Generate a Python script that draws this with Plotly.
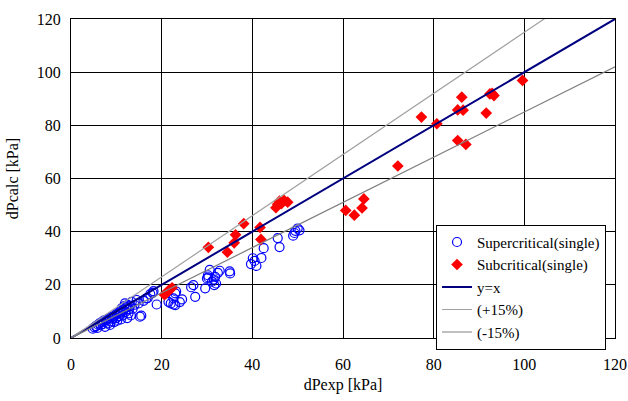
import plotly.graph_objects as go

# Supercritical (single) - blue open circles
super_x = [4.8, 5.2, 5.5, 5.8, 6.0, 6.3, 6.5, 6.8, 7.0, 7.2, 7.5, 7.8, 8.0, 8.2, 8.5, 8.6, 8.8, 9.0,
           9.2, 9.4, 9.5, 9.7, 10.0, 10.0, 10.2, 10.5, 10.6, 10.8, 11.0, 11.0, 11.2, 11.4, 11.5, 11.8,
           11.9, 12.0, 12.2, 12.4, 12.5, 12.7, 12.8, 13.0, 13.2, 13.4, 13.6, 14.0, 14.5, 14.9, 15.2,
           15.5, 16.0, 16.6, 16.9, 17.5, 18.0, 18.2, 18.9,
           21.5, 22.0, 22.6, 22.6, 23.0, 23.2, 23.0, 24.0, 24.5, 26.5, 27.0, 27.4, 29.6, 30.0, 30.2,
           30.6, 30.3, 31.1, 31.5, 31.8, 32.0, 32.4, 32.8, 31.6, 35.0, 35.1, 39.7, 40.1, 40.5, 40.9,
           42.0, 42.5, 45.6, 46.0, 49.0, 49.5, 50.0, 50.4, 49.3]
super_y = [3.5, 4.0, 4.5, 3.8, 5.0, 5.5, 4.8, 6.0, 5.2, 6.5, 4.2, 6.8, 7.0, 5.5, 7.5, 4.9, 6.2, 8.0,
           7.2, 8.0, 6.0, 8.5, 9.0, 7.5, 6.5, 9.3, 8.2, 10.0, 7.0, 9.5, 11.2, 8.5, 10.5, 12.0,
           13.0, 9.8, 11.5, 7.5, 12.5, 9.3, 10.8, 12.0, 8.5, 13.6, 11.0, 12.5, 14.3, 13.0, 8.0,
           8.4, 14.0, 14.9, 15.0, 16.5, 17.0, 17.6, 12.6,
           13.6, 13.0, 14.9, 12.6, 16.8, 17.5, 12.4, 13.5, 14.5, 19.1, 19.9, 15.5, 18.7, 22.4, 23.6,
           25.6, 22.8, 21.2, 22.0, 23.0, 20.5, 24.5, 25.3, 19.9, 25.1, 24.3, 27.8, 30.0, 29.0, 27.1,
           30.1, 33.8, 37.6, 34.2, 38.5, 40.3, 41.2, 40.5, 39.5]

# Subcritical (single) - red diamonds
sub_x = [20.6, 21.0, 21.4, 21.8, 22.3, 30.3, 34.5, 36.0, 36.3, 38.1, 41.7, 41.9,
         45.2, 45.6, 46.0, 46.4, 47.0, 47.8, 60.6, 62.5, 64.2, 64.6, 72.1,
         77.3, 80.7, 85.3, 86.5, 86.2, 87.1, 85.3, 91.6, 92.4, 92.9, 93.3, 99.6]
sub_y = [16.3, 16.9, 17.6, 18.2, 18.9, 34.1, 32.3, 35.8, 38.8, 43.0, 41.6, 37.1,
         49.0, 50.3, 51.5, 50.5, 51.8, 51.1, 48.0, 46.2, 48.9, 52.3, 64.7,
         83.1, 80.6, 85.8, 85.7, 90.6, 72.8, 74.3, 84.6, 91.8, 92.0, 91.2, 96.9]

ref_x = [0, 120]
ref_y = [0, 120]
plus_y = [0, 138]
minus_y = [0, 102]

FONT = "Times New Roman, Liberation Serif, DejaVu Serif, serif"

fig = go.Figure()
fig.add_trace(go.Scatter(x=super_x, y=super_y, mode="markers", name="Supercritical(single)",
                         marker=dict(symbol="circle-open", size=9, color="#0000FF",
                                     line=dict(width=1.2, color="#0000FF"))))
fig.add_trace(go.Scatter(x=sub_x, y=sub_y, mode="markers", name="Subcritical(single)",
                         marker=dict(symbol="diamond", size=9, color="#FF0000")))
fig.add_trace(go.Scatter(x=ref_x, y=ref_y, mode="lines", name="y=x",
                         line=dict(color="#000080", width=2)))
fig.add_trace(go.Scatter(x=ref_x, y=plus_y, mode="lines", name="(+15%)",
                         line=dict(color="#A0A0A0", width=1.2)))
fig.add_trace(go.Scatter(x=ref_x, y=minus_y, mode="lines", name="(-15%)",
                         line=dict(color="#808080", width=1.2)))

axis_common = dict(range=[0, 120], dtick=20, showgrid=True, gridcolor="#000000", gridwidth=1,
                   showline=True, linecolor="#000000", linewidth=1, mirror=True,
                   zeroline=False, ticks="", tickfont=dict(family=FONT, size=16, color="#000"),
                   fixedrange=True, automargin=False)

fig.update_layout(
    width=628, height=401,
    margin=dict(l=71, r=13, t=19, b=63),
    paper_bgcolor="white", plot_bgcolor="white",
    font=dict(family=FONT, size=16, color="#000"),
    xaxis=dict(title=dict(text="dPexp [kPa]", font=dict(family=FONT, size=16), standoff=6),
               ticklabelstandoff=12, **axis_common),
    yaxis=dict(title=dict(text="dPcalc [kPa]", font=dict(family=FONT, size=16), standoff=14),
               ticklabelstandoff=6, **axis_common),
    showlegend=True,
    legend=dict(x=0.671, y=0.355, xanchor="left", yanchor="top",
                bgcolor="white", bordercolor="#000000", borderwidth=1,
                font=dict(family=FONT, size=15), tracegroupgap=0,
                itemwidth=30),
)

fig.write_html("out.html", config={"displayModeBar": False},
               post_script="document.body.style.margin='0px';document.body.style.overflow='hidden';")
